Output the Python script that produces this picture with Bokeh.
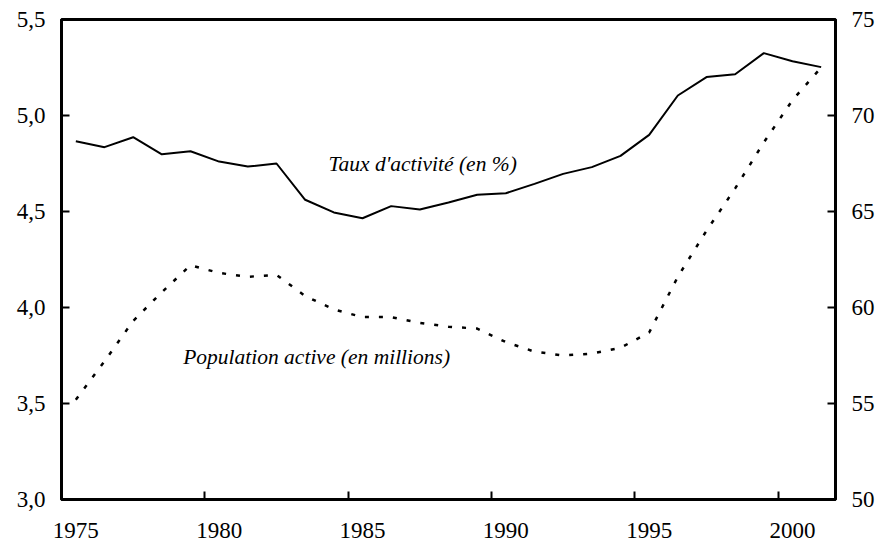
from bokeh.plotting import figure
from bokeh.models import (Range1d, LinearAxis, FixedTicker, CustomJSTickFormatter,
                          Label, ColumnDataSource)
from bokeh.embed import file_html
from bokeh.resources import INLINE

# ---- data ----
years = list(range(1975, 2002))
taux_activite = [68.66, 68.35, 68.87, 67.98, 68.14, 67.60, 67.34, 67.50, 65.61,
                 64.95, 64.65, 65.28, 65.10, 65.47, 65.87, 65.95, 66.44, 66.96,
                 67.31, 67.90, 68.99, 71.04, 72.00, 72.15, 73.25, 72.83, 72.52]
population_active = [3.52, 3.72, 3.93, 4.08, 4.22, 4.18, 4.16, 4.17, 4.06,
                     3.99, 3.95, 3.95, 3.92, 3.90, 3.89, 3.82, 3.77, 3.75,
                     3.76, 3.79, 3.87, 4.16, 4.40, 4.62, 4.86, 5.08, 5.25]
x_label_years = [1975, 1980, 1985, 1990, 1995, 2000]
x_tick_marks = [1979.5, 1984.5, 1989.5, 1994.5, 1999.5]
left_ticks = [3.0, 3.5, 4.0, 4.5, 5.0, 5.5]
right_ticks = [50, 55, 60, 65, 70, 75]
label_taux = "Taux d'activité (en %)"
label_pop = "Population active (en millions)"

src = ColumnDataSource(dict(year=years, taux=taux_activite, pop=population_active))

FONT = "Liberation Serif"
FS = "23px"
FS_ANN = "21.5px"

p = figure(width=883, height=545, output_backend="svg", toolbar_location=None,
           x_range=Range1d(1974.5, 2001.5), y_range=Range1d(3.0, 5.5),
           min_border_left=61, min_border_right=48, min_border_top=19,
           min_border_bottom=46)
p.extra_y_ranges = {"taux": Range1d(50, 75)}
p.xgrid.visible = False
p.ygrid.visible = False
p.outline_line_color = "black"
p.outline_line_width = 3
p.outline_line_alpha = 1
p.background_fill_color = "white"
p.border_fill_color = "white"

# lines
p.line("year", "taux", source=src, y_range_name="taux", line_color="black",
       line_width=2)
p.line("year", "pop", source=src, line_color="black", line_width=2.5,
       line_dash="4 10")

# x axis
xa = p.xaxis[0]
xa.ticker = FixedTicker(ticks=x_label_years, minor_ticks=x_tick_marks)
xa.major_tick_line_color = None
xa.minor_tick_line_color = "black"
xa.minor_tick_line_width = 2
xa.minor_tick_in = 8
xa.minor_tick_out = 0
xa.axis_line_width = 3
xa.axis_line_color = "black"
xa.major_label_text_font = FONT
xa.major_label_text_font_size = FS
xa.major_label_text_color = "black"
xa.major_label_standoff = 17

# left axis
ya = p.yaxis[0]
ya.ticker = FixedTicker(ticks=left_ticks)
ya.formatter = CustomJSTickFormatter(code="return tick.toFixed(1).replace('.', ',');")
ya.major_tick_in = 8
ya.major_tick_out = 0
ya.major_tick_line_width = 2
ya.minor_tick_line_color = None
ya.axis_line_width = 3
ya.major_label_text_font = FONT
ya.major_label_text_font_size = FS
ya.major_label_text_color = "black"
ya.major_label_standoff = 16

# right axis
ra = LinearAxis(y_range_name="taux", ticker=FixedTicker(ticks=right_ticks))
ra.major_tick_in = 8
ra.major_tick_out = 0
ra.major_tick_line_width = 2
ra.minor_tick_line_color = None
ra.axis_line_width = 3
ra.major_label_text_font = FONT
ra.major_label_text_font_size = FS
ra.major_label_text_color = "black"
ra.major_label_standoff = 16
p.add_layout(ra, "right")

# annotations
p.add_layout(Label(x=1987.1, y=4.75, text=label_taux, text_font=FONT,
                   text_font_style="italic", text_font_size=FS_ANN,
                   text_align="center", text_baseline="middle", text_color="black"))
p.add_layout(Label(x=1983.4, y=3.74, text=label_pop, text_font=FONT,
                   text_font_style="italic", text_font_size=FS_ANN,
                   text_align="center", text_baseline="middle", text_color="black"))

open("out.html", "w").write(file_html(p, INLINE))
